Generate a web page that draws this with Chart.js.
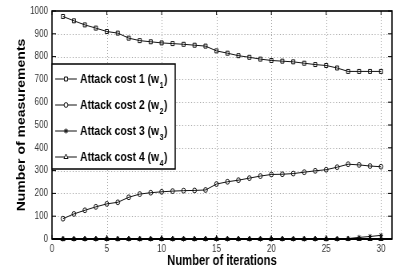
<!DOCTYPE html>
<html>
<head>
<meta charset="utf-8">
<script src="https://cdn.jsdelivr.net/npm/chart.js@4/dist/chart.umd.min.js"></script>
<style>
  html, body { margin: 0; padding: 0; background: #fff; overflow: hidden; }
  #wrap { width: 404px; height: 274px; overflow: hidden; position: relative; }
  /* the reference is squeezed horizontally, so draw wider and compress */
  #chart { display: block; transform: scaleX(0.8); transform-origin: 0 0; }
</style>
</head>
<body>
<div id="wrap"><canvas id="chart" width="505" height="274"></canvas></div>
<script>
const iterations = [1, 2, 3, 4, 5, 6, 7, 8, 9, 10, 11, 12, 13, 14, 15, 16, 17, 18, 19, 20, 21, 22, 23, 24, 25, 26, 27, 28, 29, 30];
const cost1 = [976, 957, 939, 925, 910, 903, 881, 870, 865, 860, 857, 854, 850, 846, 825, 815, 804, 797, 789, 783, 780, 777, 771, 765, 761, 750, 735, 735, 735, 735];
const cost2 = [89, 110, 126, 141, 154, 161, 183, 197, 203, 207, 210, 212, 213, 215, 241, 251, 258, 267, 276, 283, 284, 287, 293, 299, 304, 315, 328, 325, 320, 317];
const cost3 = [0, 0, 0, 0, 0, 0, 0, 0, 0, 0, 0, 0, 0, 0, 0, 0, 0, 0, 0, 0, 0, 0, 0, 0, 0, 0, 2, 7, 11, 16];
const cost4 = [0, 0, 0, 0, 0, 0, 0, 0, 0, 0, 0, 0, 0, 0, 0, 0, 0, 0, 0, 0, 0, 0, 0, 0, 0, 0, 0, 0, 0, 0];
const seriesNames = ['Attack cost 1', 'Attack cost 2', 'Attack cost 3', 'Attack cost 4'];
const weightSubs = ['1', '2', '3', '4'];
const xTicks = [0, 5, 10, 15, 20, 25, 30];
const yTicks = [0, 100, 200, 300, 400, 500, 600, 700, 800, 900, 1000];

const FONT = "'Liberation Sans', Arial, Helvetica, sans-serif";
const styles = [
    { pointStyle: 'rect', radius: 2.8, fill: 'rgba(255,255,255,0)' },
    { pointStyle: 'circle', radius: 2.4, fill: 'rgba(255,255,255,0)' },
    { pointStyle: 'star', radius: 2.6, fill: 'rgba(255,255,255,0)' },
    { pointStyle: 'triangle', radius: 3, fill: '#111' }
];

const toPoints = vals => vals.map((v, i) => ({ x: iterations[i], y: v }));

const datasets = [cost1, cost2, cost3, cost4].map((vals, i) => ({
    label: `${seriesNames[i]} (w${weightSubs[i]})`,
    data: toPoints(vals),
    borderColor: '#111',
    backgroundColor: 'rgba(255,255,255,0)',
    borderWidth: 1,
    pointStyle: styles[i].pointStyle,
    pointRadius: styles[i].radius,
    pointBorderWidth: 1,
    pointBorderColor: '#111',
    pointBackgroundColor: styles[i].fill,
    tension: 0,
    clip: false
}));

// dotted grid behind the data
const gridPlugin = {
    id: 'dotGrid',
    beforeDatasetsDraw(chart) {
        const { ctx, chartArea: a, scales: { x, y } } = chart;
        ctx.save();
        ctx.strokeStyle = '#a8a8a8';
        ctx.lineWidth = 1;
        ctx.beginPath();
        ctx.setLineDash([1, 2]);
        xTicks.slice(1).forEach(v => {
            const px = Math.round(x.getPixelForValue(v)) + 0.5;
            ctx.moveTo(px, a.top); ctx.lineTo(px, a.bottom);
        });
        ctx.stroke();
        ctx.beginPath();
        ctx.setLineDash([1.2, 2.5]);
        yTicks.slice(1, -1).forEach(v => {
            const py = Math.round(y.getPixelForValue(v)) + 0.5;
            ctx.moveTo(a.left, py); ctx.lineTo(a.right, py);
        });
        ctx.stroke();
        ctx.restore();
    }
};

// matlab-like box with inward ticks
const framePlugin = {
    id: 'frame',
    afterDatasetsDraw(chart) {
        const { ctx, chartArea: a, scales: { x, y } } = chart;
        ctx.save();
        ctx.strokeStyle = '#000';
        ctx.lineWidth = 1;
        ctx.beginPath();
        xTicks.forEach(v => {
            const px = x.getPixelForValue(v);
            ctx.moveTo(px, a.bottom); ctx.lineTo(px, a.bottom - 4);
            ctx.moveTo(px, a.top); ctx.lineTo(px, a.top + 4);
        });
        yTicks.forEach(v => {
            const py = y.getPixelForValue(v);
            ctx.moveTo(a.left, py); ctx.lineTo(a.left + 5, py);
            ctx.moveTo(a.right, py); ctx.lineTo(a.right - 5, py);
        });
        ctx.stroke();
        ctx.lineWidth = 1.6;
        ctx.strokeRect(a.left, a.top, a.right - a.left, a.bottom - a.top);
        ctx.beginPath();
        ctx.lineWidth = 2.2;
        ctx.moveTo(a.left, a.bottom); ctx.lineTo(a.right, a.bottom);
        ctx.stroke();
        ctx.restore();
    }
};

// legend box inside the plot, upper left
const legendPlugin = {
    id: 'boxLegend',
    afterDraw(chart) {
        const { ctx } = chart;
        const box = { x: 65, y: 64, w: 154, h: 105 };
        ctx.save();
        ctx.fillStyle = '#fff';
        ctx.fillRect(box.x, box.y, box.w, box.h);
        ctx.strokeStyle = '#000';
        ctx.lineWidth = 1.5;
        ctx.strokeRect(box.x, box.y, box.w, box.h);
        chart.data.datasets.forEach((ds, i) => {
            const ly = 79 + i * 26;
            ctx.strokeStyle = '#111';
            ctx.lineWidth = 1;
            ctx.beginPath();
            ctx.moveTo(69, ly); ctx.lineTo(96, ly);
            ctx.stroke();
            ctx.fillStyle = '#fff';
            Chart.helpers.drawPoint(ctx, { pointStyle: ds.pointStyle, radius: ds.pointRadius, rotation: 0, borderWidth: 1 }, 82.5, ly);
            ctx.fillStyle = '#000';
            ctx.textBaseline = 'alphabetic';
            ctx.font = `bold 13px ${FONT}`;
            const main = `${seriesNames[i]} (w`;
            const base = ly + 4;
            ctx.fillText(main, 100, base);
            let cx = 100 + ctx.measureText(main).width + 0.5;
            ctx.font = `bold 9px ${FONT}`;
            ctx.fillText(weightSubs[i], cx, base + 5);
            cx += ctx.measureText(weightSubs[i]).width + 0.5;
            ctx.font = `bold 13px ${FONT}`;
            ctx.fillText(')', cx, base);
        });
        ctx.restore();
    }
};

new Chart(document.getElementById('chart'), {
    type: 'line',
    data: { datasets },
    options: {
        responsive: false,
        animation: false,
        devicePixelRatio: 1,
        layout: { padding: { top: 7, right: 15, left: 0, bottom: 0 } },
        plugins: { legend: { display: false }, tooltip: { enabled: false } },
        scales: {
            x: {
                type: 'linear',
                min: 0,
                max: 31,
                afterBuildTicks: s => { s.ticks = xTicks.map(v => ({ value: v })); },
                afterFit: s => { s.height = 35; },
                grid: { display: false, drawTicks: false },
                border: { display: false },
                ticks: { padding: 4, color: '#333', font: { family: FONT, size: 10 }, maxRotation: 0, callback: v => String(v) },
                title: { display: true, text: 'Number of iterations', color: '#000', font: { family: FONT, size: 14, weight: 'bold' }, padding: { top: 0, bottom: 4.6 } }
            },
            y: {
                min: 0,
                max: 1000,
                afterBuildTicks: s => { s.ticks = yTicks.map(v => ({ value: v })); },
                afterFit: s => { s.width = 65; },
                grid: { display: false, drawTicks: false },
                border: { display: false },
                ticks: { padding: 5, color: '#333', font: { family: FONT, size: 10 }, callback: v => String(v) },
                title: { display: true, text: 'Number of measurements', color: '#000', font: { family: FONT, size: 14, weight: 'bold' }, padding: { top: 19, bottom: 0 } }
            }
        }
    },
    plugins: [gridPlugin, framePlugin, legendPlugin]
});
</script>
</body>
</html>
